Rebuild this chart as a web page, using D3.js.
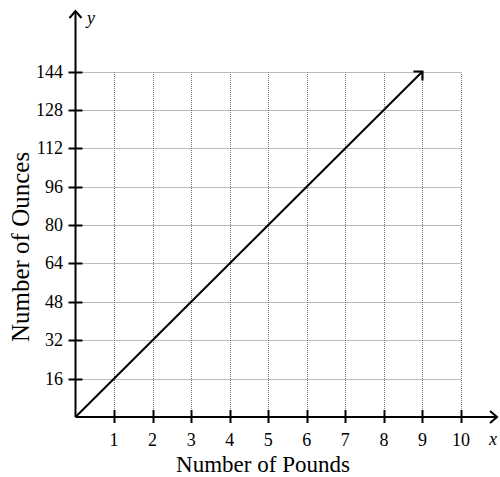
<!DOCTYPE html>
<html><head><meta charset="utf-8">
<script src="https://cdn.jsdelivr.net/npm/d3@7"></script>
<style>body{margin:0;background:#fff}svg{display:block}text{font-family:"Liberation Serif","Times New Roman",serif;fill:#000}</style>
</head><body><svg id="c" width="500" height="477"></svg>
<script>
const xTicks = [1,2,3,4,5,6,7,8,9,10];
const yTicks = [16,32,48,64,80,96,112,128,144];
const pounds = [0, 9];
const ounces = [0, 144];
const xTitle = "Number of Pounds";
const yTitle = "Number of Ounces";

const svg = d3.select("#c");
const x = d3.scaleLinear().domain([0,10]).range([75.5,461]);
const y = d3.scaleLinear().domain([0,144]).range([417,71.5]);
const px = v => Math.round(v) + 0.5;

// grid
const g = svg.append("g").attr("stroke","#777").attr("stroke-width",1).attr("stroke-dasharray","1,1");
g.selectAll(".vg").data(xTicks).join("line")
  .attr("x1",d=>px(x(d))).attr("x2",d=>px(x(d))).attr("y1",y(0)).attr("y2",px(y(144)));
g.selectAll(".hg").data(yTicks).join("line")
  .attr("y1",d=>px(y(d))).attr("y2",d=>px(y(d))).attr("x1",x(0)).attr("x2",px(x(10)));

// axes
const ax = svg.append("g").attr("stroke","#000").attr("stroke-width",2).attr("fill","none");
ax.append("line").attr("x1",x(0)).attr("x2",496).attr("y1",y(0)).attr("y2",y(0));
ax.append("line").attr("x1",x(0)).attr("x2",x(0)).attr("y1",y(0)).attr("y2",11);
ax.append("path").attr("d",`M${490},${y(0)-6}L${497},${y(0)}L${490},${y(0)+6}`);
ax.append("path").attr("d",`M${x(0)-6},${18}L${x(0)},${11}L${x(0)+6},${18}`);
ax.selectAll(".xt").data(xTicks).join("line")
  .attr("x1",d=>px(x(d))).attr("x2",d=>px(x(d))).attr("y1",y(0)-7).attr("y2",y(0)+6);
ax.selectAll(".yt").data(yTicks).join("line")
  .attr("y1",d=>px(y(d))).attr("y2",d=>px(y(d))).attr("x1",x(0)-7).attr("x2",x(0)+7);

// data line with arrow
const line = d3.line().x(d=>x(d[0])).y(d=>y(d[1]));
const pts = pounds.map((p,i)=>[p,ounces[i]]);
svg.append("path").attr("d",line(pts)).attr("stroke","#000").attr("stroke-width",2).attr("fill","none");
const ex = x(pounds[1]), ey = y(ounces[1]);
svg.append("path").attr("d",`M${ex-9},${ey}L${ex},${ey}L${ex},${ey+9}`)
  .attr("stroke","#000").attr("stroke-width",2.2).attr("fill","none");

// labels
svg.selectAll(".xl").data(xTicks).join("text")
  .attr("x",d=>x(d)).attr("y",446).attr("text-anchor","middle").attr("font-size",18).text(d=>d);
svg.selectAll(".yl").data(yTicks).join("text")
  .attr("x",63).attr("y",d=>y(d)+6).attr("text-anchor","end").attr("font-size",18).text(d=>d);
svg.append("text").attr("x",87).attr("y",24).attr("font-size",18).attr("font-style","italic").text("y");
svg.append("text").attr("x",489).attr("y",445).attr("font-size",18).attr("font-style","italic").text("x");
svg.append("text").attr("x",263).attr("y",472).attr("text-anchor","middle").attr("font-size",23).text(xTitle);
svg.append("text").attr("transform","translate(29,247) rotate(-90)").attr("text-anchor","middle").attr("font-size",25).text(yTitle);
</script></body></html>
